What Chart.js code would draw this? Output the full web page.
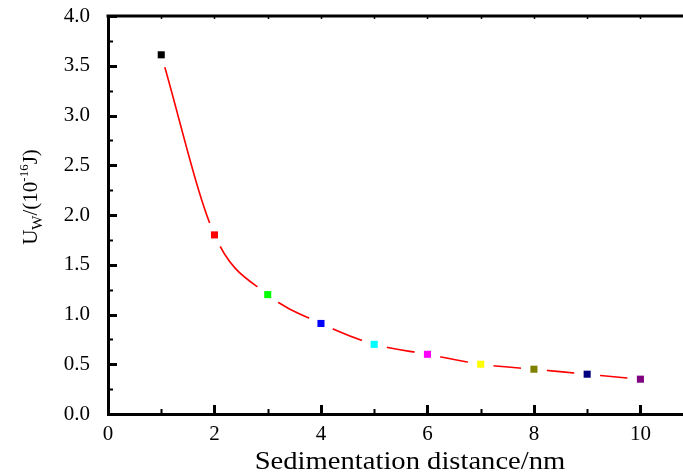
<!DOCTYPE html>
<html>
<head>
<meta charset="utf-8">
<script src="https://cdn.jsdelivr.net/npm/chart.js@4/dist/chart.umd.min.js"></script>
<style>
  html, body { margin: 0; padding: 0; background: #fff; }
</style>
</head>
<body>
<canvas id="myChart" width="683" height="474"></canvas>
<script>
// data
var distances = [1, 2, 3, 4, 5, 6, 7, 8, 9, 10];
var energies = [3.61, 1.80, 1.20, 0.91, 0.70, 0.60, 0.50, 0.45, 0.40, 0.35];
var pointColors = ['#000000', '#ff0000', '#00ff00', '#0000ff', '#00ffff',
                   '#ff00ff', '#ffff00', '#808000', '#000080', '#800080'];
var xTitle = 'Sedimentation distance/nm';

var points = distances.map(function(d, i) { return {x: d, y: energies[i]}; });
var serif = "'Liberation Serif', 'Times New Roman', serif";

// frame: top axis line, inward ticks, axis titles
var frameTicks = {
  id: 'frameTicks',
  afterDraw: function(chart) {
    var ctx = chart.ctx, a = chart.chartArea;
    var xs = chart.scales.x, ys = chart.scales.y;
    ctx.save();
    ctx.strokeStyle = '#000';
    ctx.lineWidth = 3;
    ctx.beginPath();
    ctx.moveTo(a.left - 1.5, a.top);
    ctx.lineTo(a.right, a.top);
    ctx.stroke();

    // x ticks (bottom, pointing up)
    for (var v = 0; v <= 10; v++) {
      var px = Math.round(xs.getPixelForValue(v)) + 0.5;
      var major = v % 2 === 0;
      ctx.lineWidth = major ? 3 : 2;
      ctx.beginPath();
      ctx.moveTo(px, a.bottom);
      ctx.lineTo(px, a.bottom - (major ? 9 : 5));
      ctx.stroke();
      // top ticks (small, pointing down)
      ctx.lineWidth = 1.5;
      ctx.beginPath();
      ctx.moveTo(px, a.top);
      ctx.lineTo(px, a.top + 3);
      ctx.stroke();
    }
    // y ticks (left, pointing right)
    for (var k = 0; k <= 16; k++) {
      var val = k * 0.25;
      var py = Math.round(ys.getPixelForValue(val)) + 0.5;
      var maj = k % 2 === 0;
      ctx.lineWidth = maj ? 3 : 2;
      ctx.beginPath();
      ctx.moveTo(a.left, py);
      ctx.lineTo(a.left + (maj ? 9 : 5), py);
      ctx.stroke();
    }

    // x title
    ctx.fillStyle = '#000';
    ctx.font = '26px ' + serif;
    ctx.textAlign = 'center';
    ctx.textBaseline = 'middle';
    ctx.save();
    ctx.translate(410, 462);
    ctx.scale(1.1, 1);
    ctx.fillText(xTitle, 0, 0);
    ctx.restore();

    // y title with sub/superscript
    var parts = [
      {t: 'U', size: 21, dy: 0},
      {t: 'W', size: 15, dy: 5},
      {t: '/(10', size: 21, dy: 0},
      {t: '-16', size: 13, dy: -9},
      {t: 'J)', size: 21, dy: 0}
    ];
    var total = 0;
    parts.forEach(function(p) {
      ctx.font = p.size + 'px ' + serif;
      p.w = ctx.measureText(p.t).width;
      total += p.w;
    });
    ctx.translate(37, 197);
    ctx.rotate(-Math.PI / 2);
    ctx.textAlign = 'left';
    ctx.textBaseline = 'alphabetic';
    var pos = -total / 2;
    parts.forEach(function(p) {
      ctx.font = p.size + 'px ' + serif;
      ctx.fillText(p.t, pos, p.dy);
      pos += p.w;
    });
    ctx.restore();
  }
};

var ctx = document.getElementById('myChart');
var myChart = new Chart(ctx, {
  type: 'scatter',
  data: {
    datasets: [
      {
        // fitted curve
        type: 'line',
        data: points,
        borderColor: '#ff0000',
        borderWidth: 1.6,
        pointRadius: 0,
        cubicInterpolationMode: 'monotone',
        fill: false,
        order: 3
      },
      {
        // white gap round each symbol
        data: points,
        pointStyle: 'circle',
        pointRadius: 13,
        backgroundColor: '#ffffff',
        borderWidth: 0,
        order: 2
      },
      {
        data: points,
        pointStyle: 'rect',
        pointRadius: 5,
        backgroundColor: pointColors,
        borderColor: pointColors,
        borderWidth: 0,
        order: 1
      }
    ]
  },
  options: {
    responsive: false,
    animation: false,
    layout: { autoPadding: false, padding: { top: 16, left: 0, right: 0, bottom: 0 } },
    plugins: {
      legend: { display: false },
      tooltip: { enabled: false }
    },
    scales: {
      x: {
        type: 'linear',
        min: 0,
        max: 10.8,
        grid: { display: false, drawTicks: false },
        border: { display: true, color: '#000', width: 3 },
        ticks: {
          stepSize: 2,
          includeBounds: false,
          color: '#000',
          padding: 8,
          font: { family: serif, size: 21 }
        },
        afterFit: function(scale) {
          scale.height = 60;
          scale.paddingLeft = 0;
          scale.paddingRight = 0;
        }
      },
      y: {
        min: 0,
        max: 4,
        grid: { display: false, drawTicks: false },
        border: { display: true, color: '#000', width: 3 },
        ticks: {
          stepSize: 0.5,
          color: '#000',
          padding: 18,
          font: { family: serif, size: 21 },
          callback: function(v) { return v.toFixed(1); }
        },
        afterFit: function(scale) {
          scale.width = 108;
          scale.paddingTop = 0;
          scale.paddingBottom = 0;
        }
      }
    }
  },
  plugins: [frameTicks]
});
</script>
</body>
</html>
